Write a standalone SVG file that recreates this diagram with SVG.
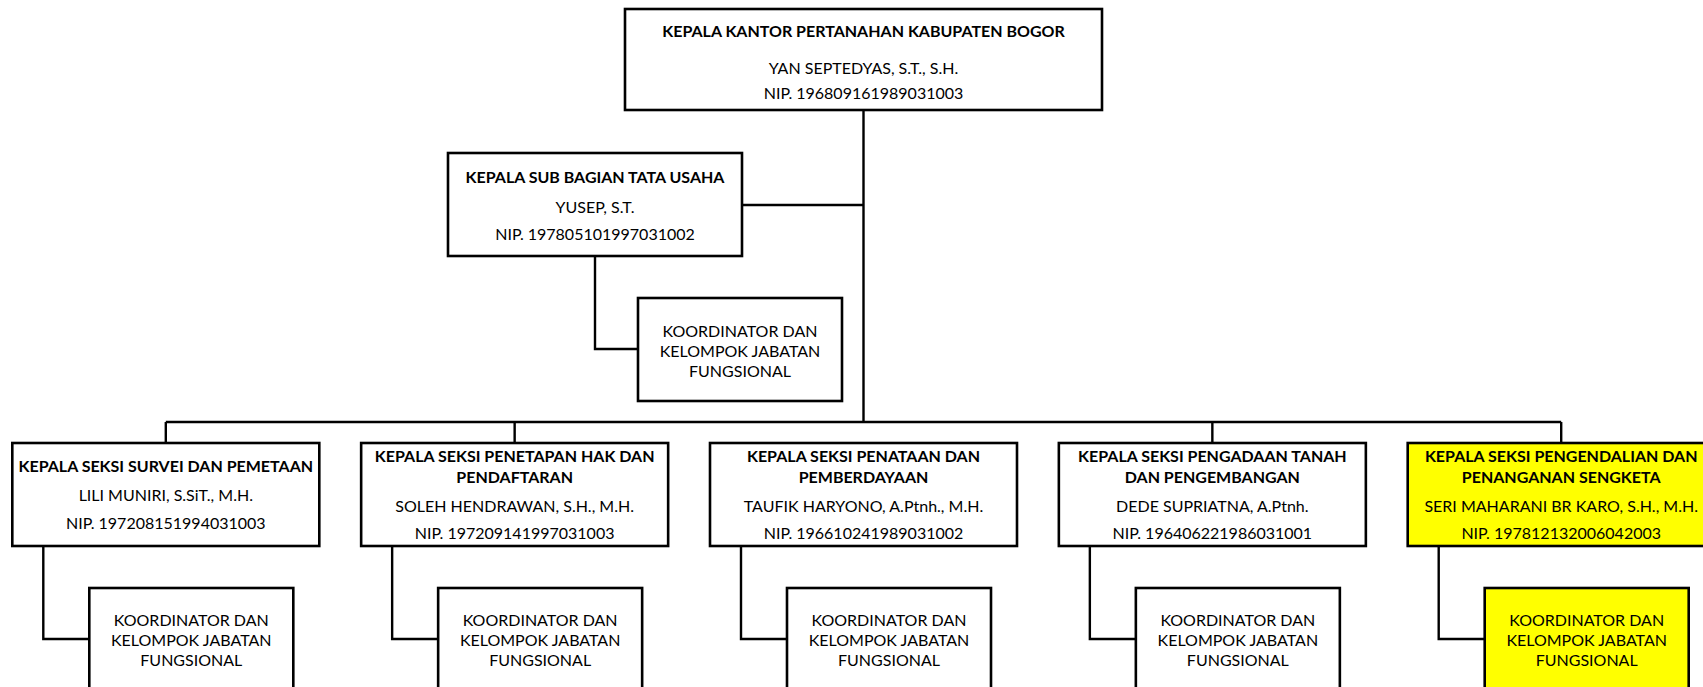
<svg xmlns="http://www.w3.org/2000/svg" width="1703" height="687" viewBox="0 0 1703 687">
<style>
.box{fill:#fff;stroke:#000;stroke-width:2.6}
.hl{fill:#ffff00}
.ln{fill:none;stroke:#000;stroke-width:2.4}
text{font-family:Lato,"Open Sans","Liberation Sans",sans-serif;font-size:16px;fill:#000;text-anchor:middle}
.b{font-weight:bold}
</style>
<rect width="1703" height="687" fill="#fff"/>
<g id="connectors">
<path class="ln" d="M863.5,110 V422 M742,205 H863.5 M165.8,422 H1561.2 M165.8,422 V443 M514.65,422 V443 M1212.35,422 V443 M1561.2,422 V443"/>
<path class="ln" d="M595,256 V349 H638"/>
<path class="ln" d="M43.3,546 V639 H89.3"/>
<path class="ln" d="M392.15,546 V639 H438.15"/>
<path class="ln" d="M741,546 V639 H787"/>
<path class="ln" d="M1089.85,546 V639 H1135.85"/>
<path class="ln" d="M1438.7,546 V639 H1484.7"/>
</g>
<g id="kepala-kantor">
<rect class="box" x="625" y="9" width="477" height="101"/>
<text class="b" x="863.5" y="37">KEPALA KANTOR PERTANAHAN KABUPATEN BOGOR</text>
<text x="863.5" y="74">YAN SEPTEDYAS, S.T., S.H.</text>
<text x="863.5" y="99">NIP. 196809161989031003</text>
</g>
<g id="kasubbag-tu">
<rect class="box" x="448" y="153" width="294" height="103"/>
<text class="b" x="595" y="183">KEPALA SUB BAGIAN TATA USAHA</text>
<text x="595" y="213">YUSEP, S.T.</text>
<text x="595" y="240">NIP. 197805101997031002</text>
</g>
<g id="koord-tu">
<rect class="box" x="638" y="298" width="204" height="103"/>
<text x="740" y="337">KOORDINATOR DAN</text>
<text x="740" y="357">KELOMPOK JABATAN</text>
<text x="740" y="377">FUNGSIONAL</text>
</g>
<g id="seksi-survei">
<rect class="box" x="12.3" y="443" width="307" height="103"/>
<text class="b" x="165.8" y="472">KEPALA SEKSI SURVEI DAN PEMETAAN</text>
<text x="165.8" y="500.5">LILI MUNIRI, S.SiT., M.H.</text>
<text x="165.8" y="529">NIP. 197208151994031003</text>
</g>
<g id="koord-survei">
<rect class="box" x="89.3" y="588" width="204" height="110"/>
<text x="191.3" y="626">KOORDINATOR DAN</text>
<text x="191.3" y="646">KELOMPOK JABATAN</text>
<text x="191.3" y="666">FUNGSIONAL</text>
</g>
<g id="seksi-penetapan">
<rect class="box" x="361.15" y="443" width="307" height="103"/>
<text class="b" x="514.65" y="461.5">KEPALA SEKSI PENETAPAN HAK DAN</text>
<text class="b" x="514.65" y="482.5">PENDAFTARAN</text>
<text x="514.65" y="511.5">SOLEH HENDRAWAN, S.H., M.H.</text>
<text x="514.65" y="539">NIP. 197209141997031003</text>
</g>
<g id="koord-penetapan">
<rect class="box" x="438.15" y="588" width="204" height="110"/>
<text x="540.15" y="626">KOORDINATOR DAN</text>
<text x="540.15" y="646">KELOMPOK JABATAN</text>
<text x="540.15" y="666">FUNGSIONAL</text>
</g>
<g id="seksi-penataan">
<rect class="box" x="710" y="443" width="307" height="103"/>
<text class="b" x="863.5" y="461.5">KEPALA SEKSI PENATAAN DAN</text>
<text class="b" x="863.5" y="482.5">PEMBERDAYAAN</text>
<text x="863.5" y="511.5">TAUFIK HARYONO, A.Ptnh., M.H.</text>
<text x="863.5" y="539">NIP. 196610241989031002</text>
</g>
<g id="koord-penataan">
<rect class="box" x="787" y="588" width="204" height="110"/>
<text x="889" y="626">KOORDINATOR DAN</text>
<text x="889" y="646">KELOMPOK JABATAN</text>
<text x="889" y="666">FUNGSIONAL</text>
</g>
<g id="seksi-pengadaan">
<rect class="box" x="1058.85" y="443" width="307" height="103"/>
<text class="b" x="1212.35" y="461.5">KEPALA SEKSI PENGADAAN TANAH</text>
<text class="b" x="1212.35" y="482.5">DAN PENGEMBANGAN</text>
<text x="1212.35" y="511.5">DEDE SUPRIATNA, A.Ptnh.</text>
<text x="1212.35" y="539">NIP. 196406221986031001</text>
</g>
<g id="koord-pengadaan">
<rect class="box" x="1135.85" y="588" width="204" height="110"/>
<text x="1237.85" y="626">KOORDINATOR DAN</text>
<text x="1237.85" y="646">KELOMPOK JABATAN</text>
<text x="1237.85" y="666">FUNGSIONAL</text>
</g>
<g id="seksi-pengendalian">
<rect class="box hl" x="1407.7" y="443" width="307" height="103"/>
<text class="b" x="1561.2" y="461.5">KEPALA SEKSI PENGENDALIAN DAN</text>
<text class="b" x="1561.2" y="482.5">PENANGANAN SENGKETA</text>
<text x="1561.2" y="511.5">SERI MAHARANI BR KARO, S.H., M.H.</text>
<text x="1561.2" y="539">NIP. 197812132006042003</text>
</g>
<g id="koord-pengendalian">
<rect class="box hl" x="1484.7" y="588" width="204" height="110"/>
<text x="1586.7" y="626">KOORDINATOR DAN</text>
<text x="1586.7" y="646">KELOMPOK JABATAN</text>
<text x="1586.7" y="666">FUNGSIONAL</text>
</g>
</svg>
